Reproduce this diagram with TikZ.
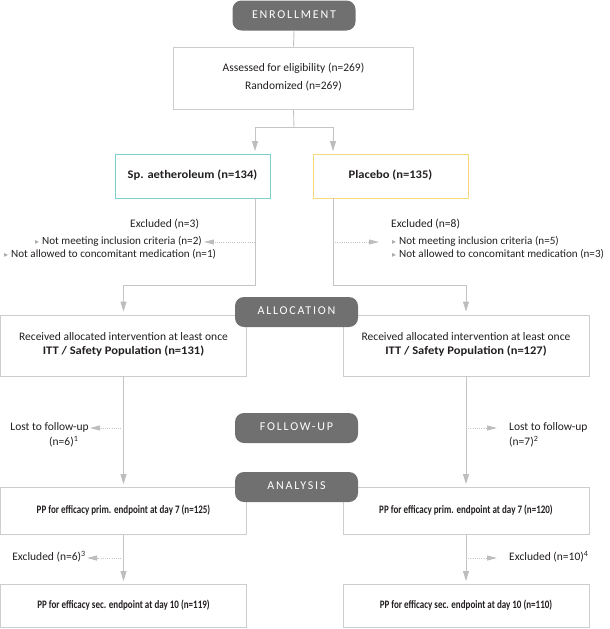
\documentclass[tikz,border=0pt]{standalone}
\usepackage{fontspec}
\setmainfont{Carlito}
\newfontfamily\dejavu{DejaVu Sans}
\newfontfamily\condbold{Carlito}[FakeStretch=0.79]
\newfontfamily\widebold{Carlito}[FakeStretch=1.08]
\newfontfamily\pillfont{Carlito}[LetterSpace=15]
\usetikzlibrary{arrows.meta}
\definecolor{linegray}{HTML}{C4C4C4}
\definecolor{boxgray}{HTML}{CDCDCD}
\definecolor{pillgray}{HTML}{707070}
\definecolor{tipgray}{HTML}{BDBDBD}
\definecolor{bulgray}{HTML}{ABABAB}
\definecolor{tealc}{HTML}{7FCFCF}
\definecolor{yellc}{HTML}{F6D97C}
\definecolor{txt}{HTML}{231F20}
\newcommand{\bul}{{\dejavu\fontsize{8}{8}\selectfont\color{bulgray}▸}\hspace{3pt}}
\begin{document}
\begin{tikzpicture}[x=1pt,y=-1pt,
  every node/.style={text=txt, font=\fontsize{11.5}{14}\selectfont, inner sep=0pt, text height=0.72em, text depth=0.22em},
  box/.style={draw=boxgray, line width=0.9pt, fill=white, align=center},
  pill/.style={fill=pillgray, rounded corners=9pt, text=white, minimum width=123pt, minimum height=30pt, font=\pillfont\fontsize{12}{14}\selectfont},
  conn/.style={draw=linegray, line width=0.9pt},
  arr/.style={conn, -{Triangle[length=10pt,width=6pt,fill=tipgray,color=tipgray]}, shorten >=3pt},
  darr/.style={draw=linegray, line width=0.9pt, dash pattern=on 0.9pt off 1.3pt, -{Triangle[length=10pt,width=5pt,fill=tipgray,color=tipgray]}},
  sml/.style={font=\fontsize{11.1}{14}\selectfont},
  bb/.style={font=\widebold\bfseries\fontsize{11.6}{14}\selectfont},
  cb/.style={font=\condbold\bfseries\fontsize{11.4}{13}\selectfont}
]
\useasboundingbox (0,0) rectangle (610,629);

% boxes
\node[box, minimum width=240pt, minimum height=62pt] (box1) at (293.5,78) {};
\node (t1a) at (293.5,69) {Assessed for eligibility (n=269)};
\node (t1b) at (293.5,87) {Randomized (n=269)};

\node[box, draw=tealc, minimum width=155pt, minimum height=44pt] (sp) at (192.5,176) {};
\node[bb] (spt) at (sp.center) {Sp. aetheroleum (n=134)};
\node[box, draw=yellc, minimum width=155pt, minimum height=44pt] (pl) at (390.5,176) {};
\node[bb] (plt) at (pl.center) {Placebo (n=135)};

\node[box, minimum width=246pt, minimum height=61pt] (recL) at (123.5,345.5) {};
\node (recLa) at (123.5,338) {Received allocated intervention at least once};
\node[bb] (recLb) at (123.5,351.5) {ITT / Safety Population (n=131)};
\node[box, minimum width=246pt, minimum height=61pt] (recR) at (466,345.5) {};
\node (recRa) at (466,338) {Received allocated intervention at least once};
\node[bb] (recRb) at (466,351.5) {ITT / Safety Population (n=127)};

\node[box, minimum width=246pt, minimum height=47pt] (ppL) at (123.5,511) {};
\node[cb] (ppLt) at (ppL.center) {PP for efficacy prim. endpoint at day 7 (n=125)};
\node[box, minimum width=246pt, minimum height=47pt] (ppR) at (466,511) {};
\node[cb] (ppRt) at (ppR.center) {PP for efficacy prim. endpoint at day 7 (n=120)};

\node[box, minimum width=246pt, minimum height=43pt] (secL) at (123.5,606) {};
\node[cb] (secLt) at (secL.center) {PP for efficacy sec. endpoint at day 10 (n=119)};
\node[box, minimum width=246pt, minimum height=43pt] (secR) at (466,606) {};
\node[cb] (secRt) at (secR.center) {PP for efficacy sec. endpoint at day 10 (n=110)};

% side texts
\node[anchor=west] (exL0) at (130,225) {Excluded (n=3)};
\node[anchor=west, sml] (exL1) at (35,242) {\bul Not meeting inclusion criteria (n=2)};
\node[anchor=west, sml] (exL2) at (4,255) {\bul Not allowed to concomitant medication (n=1)};
\node[anchor=west] (exR0) at (391,225) {Excluded (n=8)};
\node[anchor=west, sml] (exR1) at (392,242) {\bul Not meeting inclusion criteria (n=5)};
\node[anchor=west, sml] (exR2) at (392,255) {\bul Not allowed to concomitant medication (n=3)};

\node[anchor=east] (lostL1) at (89,428) {Lost to follow-up};
\node[anchor=west] (lostL2) at (49,443) {(n=6)\textsuperscript{1}};
\node[anchor=west] (lostR1) at (509,428) {Lost to follow-up};
\node[anchor=west] (lostR2) at (509,443) {(n=7)\textsuperscript{2}};
\node[anchor=east] (exL3) at (86,558) {Excluded (n=6)\textsuperscript{3}};
\node[anchor=west] (exR3) at (509,558) {Excluded (n=10)\textsuperscript{4}};

% coordinates
\coordinate (enrOut) at (294,31);
\coordinate (jTop) at (294,127);
\coordinate (spIn) at (255,154);
\coordinate (plIn) at (333,154);
\coordinate (spOut) at (255,198);
\coordinate (plOut) at (333,198);
\coordinate (jL) at (255,285);
\coordinate (jR) at (333,285);
\coordinate (dL1) at (255,242);
\coordinate (dR1) at (333,242);
\coordinate (dL2) at (123.5,428);
\coordinate (dR2) at (466,428);
\coordinate (dL3) at (123.5,558);
\coordinate (dR3) at (466,558);

% connectors
\draw[conn] (enrOut) -- (box1.north);
\draw[conn] (box1.south) -- (jTop);
\draw[arr] (jTop) -| (spIn);
\draw[arr] (jTop) -| (plIn);
\draw[arr] (spOut) -- (jL) -| (recL.north);
\draw[arr] (plOut) -- (jR) -| (recR.north);
\draw[arr] (recL.south) -- (ppL.north);
\draw[arr] (recR.south) -- (ppR.north);
\draw[arr] (ppL.south) -- (secL.north);
\draw[arr] (ppR.south) -- (secR.north);

\draw[darr, shorten >=2pt] (dL1) -- (exL1.east);
\draw[darr, shorten >=13pt] (dR1) -- (exR1.west);
\draw[darr, shorten >=1pt] (dL2) -- (lostL1.east);
\draw[darr, shorten >=12pt] (dR2) -- (lostR1.west);
\draw[darr, shorten >=1pt] (dL3) -- (exL3.east);
\draw[darr, shorten >=12pt] (dR3) -- (exR3.west);

% pills
\node[pill] (enr) at (294,15.5) {ENROLLMENT};
\node[pill] (alloc) at (296.5,312) {ALLOCATION};
\node[pill] (fup) at (296.5,428) {FOLLOW-UP};
\node[pill] (ana) at (296.5,487) {ANALYSIS};
\end{tikzpicture}
\end{document}
